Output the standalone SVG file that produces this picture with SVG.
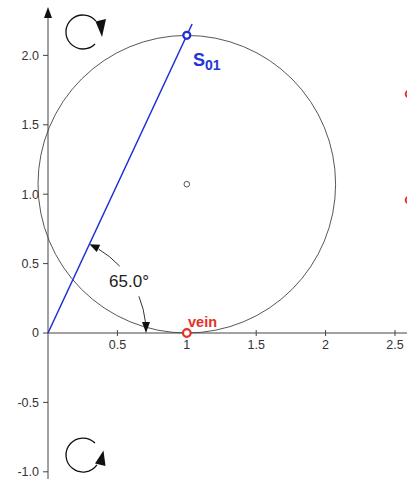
<svg xmlns="http://www.w3.org/2000/svg" width="407" height="479" viewBox="0 0 407 479">
<style>
.axis{stroke:#444;stroke-width:1;fill:none}
.tick{stroke:#444;stroke-width:1}
.lbl{font-family:"Liberation Sans",Arial,sans-serif;font-size:12.5px;fill:#333}
.icon{stroke:#111;stroke-width:1.3;fill:none}
.ang{stroke:#333;stroke-width:1;fill:none}
</style>
<rect width="407" height="479" fill="#fff"/>
<g id="axes">
<line class="axis" x1="48" y1="14" x2="48" y2="479"/>
<polygon points="48,7 44,18 52,18" fill="#111"/>
<line class="axis" x1="48" y1="333" x2="407" y2="333"/>
<g class="tick">
<line x1="117.4" y1="330" x2="117.4" y2="336"/>
<line x1="186.8" y1="330" x2="186.8" y2="336"/>
<line x1="256.2" y1="330" x2="256.2" y2="336"/>
<line x1="325.6" y1="330" x2="325.6" y2="336"/>
<line x1="395" y1="330" x2="395" y2="336"/>
<line x1="43" y1="55.4" x2="48" y2="55.4"/>
<line x1="43" y1="124.8" x2="48" y2="124.8"/>
<line x1="43" y1="194.2" x2="48" y2="194.2"/>
<line x1="43" y1="263.6" x2="48" y2="263.6"/>
<line x1="43" y1="333" x2="48" y2="333"/>
<line x1="43" y1="402.4" x2="48" y2="402.4"/>
<line x1="43" y1="471.8" x2="48" y2="471.8"/>
</g>
<g class="lbl" text-anchor="middle">
<text x="117.4" y="348.5">0.5</text>
<text x="186.8" y="348.5">1</text>
<text x="256.2" y="348.5">1.5</text>
<text x="325.6" y="348.5">2</text>
<text x="395" y="348.5">2.5</text>
</g>
<g class="lbl" text-anchor="end">
<text x="39" y="59.8">2.0</text>
<text x="39" y="129.2">1.5</text>
<text x="39" y="198.6">1.0</text>
<text x="39" y="268">0.5</text>
<text x="39" y="337.4">0</text>
<text x="39" y="406.8">-0.5</text>
<text x="39" y="476.2">-1.0</text>
</g>
</g>
<g id="rotate-cw">
<path class="icon" d="M96,21.1 A17,17 0 1 0 95,44"/>
<polygon points="95.5,21.5 106,19 102,37" fill="#111"/>
</g>
<g id="rotate-ccw">
<path class="icon" d="M95,443 A17,17 0 1 0 96.9,464.8"/>
<polygon points="103.5,450.5 95,463.5 105.5,466" fill="#111"/>
</g>
<g id="circle">
<circle cx="186.8" cy="184.2" r="148.8" fill="none" stroke="#444" stroke-width="0.9"/>
</g>
<g id="connectors">
<line x1="48" y1="333" x2="192.1" y2="24" stroke="#1f2fd4" stroke-width="1.5"/>
<path class="ang" d="M119.7,266.2 A98,98 0 0 0 98.5,249"/>
<polygon points="89.4,244.2 100.2,244.8 96.8,252" fill="#111"/>
<path class="ang" d="M138.9,296.3 A98,98 0 0 1 145.6,323"/>
<polygon points="146,333 142,322 150,322" fill="#111"/>
</g>
<g id="angle-label">
<text x="129" y="286.5" text-anchor="middle" font-family="Liberation Sans,Arial,sans-serif" font-size="17" fill="#222">65.0°</text>
</g>
<g id="center">
<circle cx="186.8" cy="184.2" r="2.8" fill="#fff" stroke="#555" stroke-width="1"/>
</g>
<g id="S01">
<circle cx="186.8" cy="35.3" r="3.5" fill="#fff" stroke="#1f2fd4" stroke-width="2.2"/>
<text x="193" y="66" font-family="Liberation Sans,Arial,sans-serif" font-weight="bold" font-size="18" fill="#2236d6">S<tspan font-size="14" dy="4">01</tspan></text>
</g>
<g id="vein">
<circle cx="186.8" cy="333" r="3.8" fill="#fff" stroke="#e5302a" stroke-width="2.2"/>
<text x="188" y="327" font-family="Liberation Sans,Arial,sans-serif" font-weight="bold" font-size="14.5" fill="#e5302a">vein</text>
</g>
<g id="edge-points">
<circle cx="409" cy="94" r="3.3" fill="#fff" stroke="#e5302a" stroke-width="2"/>
<circle cx="409" cy="200" r="3.3" fill="#fff" stroke="#e5302a" stroke-width="2"/>
</g>
</svg>
